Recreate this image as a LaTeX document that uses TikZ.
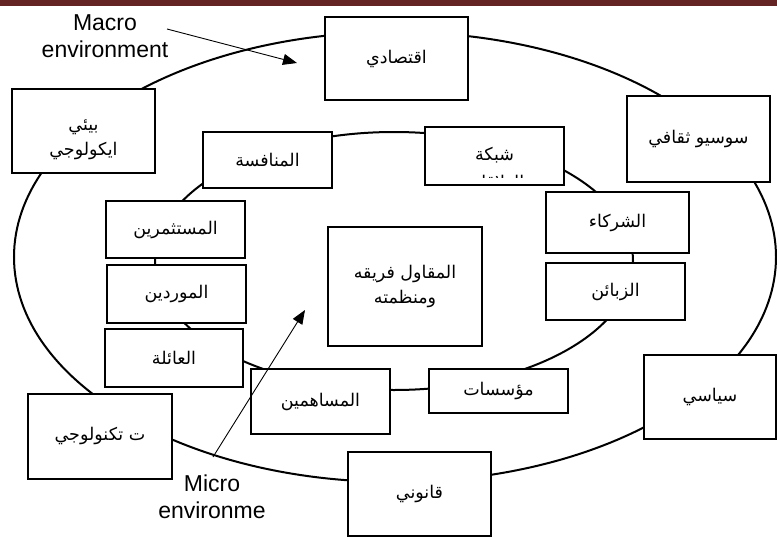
\documentclass[tikz,border=0pt]{standalone}
\usepackage{fontspec}
\setmainfont{Liberation Sans}
\newfontfamily\arabicfont[Script=Arabic]{DejaVu Sans}
\TeXXeTstate=1
\usetikzlibrary{arrows.meta}
\definecolor{barred}{RGB}{99,36,35}
\newcommand{\artxt}[1]{{\arabicfont\beginR #1\endR}}

\begin{document}
\begin{tikzpicture}[x=1pt,y=-1pt,
    box/.style={draw, line width=2pt, fill=white, inner sep=0pt, align=center,
      font=\fontsize{17.5}{25}\selectfont},
    envtext/.style={align=center, font=\fontsize{23}{26.5}\selectfont},
    pointer/.style={line width=0.9pt, -{Triangle[length=14pt,width=11pt]}}]
    \useasboundingbox (0,0) rectangle (777,538);
    \fill[barred] (0,0) rectangle (777,6);

    % Draw the two rings
    \draw[line width=2pt] (395,257) ellipse [x radius=381pt, y radius=225pt];
    \draw[line width=2pt] (394,261) ellipse [x radius=239pt, y radius=129pt];

    % Outer ring: macro environment
    \node[box, minimum width=143pt, minimum height=83pt] (econ) at (396.5,58.5) {\artxt{اقتصادي}};
    \node[box, minimum width=143pt, minimum height=86pt] (socio) at (698.5,139) {\artxt{سوسيو ثقافي}};
    \node[box, minimum width=143pt, minimum height=84pt] (ecolo) at (83.5,131) {};
    \node[align=center, font=\fontsize{17.5}{25}\selectfont] (ecolotext) at ([yshift=-9pt]ecolo.center) {\artxt{بيئي}\\\artxt{ايكولوجي}};
    \node[box, minimum width=144pt, minimum height=85pt] (techno) at (100,436) {\artxt{ت تكنولوجي}};
    \node[box, minimum width=143pt, minimum height=84pt] (legal) at (419.5,494) {\artxt{قانوني}};
    \node[box, minimum width=132pt, minimum height=84pt] (polit) at (710,397) {\artxt{سياسي}};

    % Inner ring: micro environment
    \node[box, minimum width=139pt, minimum height=58pt,
      path picture={
        \clip (path picture bounding box.north west) rectangle ([yshift=8pt]path picture bounding box.south east);
        \node[align=center, font=\fontsize{17.5}{28}\selectfont] at ([yshift=-12pt]path picture bounding box.center)
          {\artxt{شبكة}\\\artxt{العلاقات}};
      }] (network) at (494.5,156) {};
    \node[box, minimum width=129pt, minimum height=56pt] (rivals) at (267.5,160) {\artxt{المنافسة}};
    \node[box, minimum width=139pt, minimum height=57pt] (investors) at (175.5,229.5) {\artxt{المستثمرين}};
    \node[box, minimum width=139pt, minimum height=58pt] (suppliers) at (176.5,294) {\artxt{الموردين}};
    \node[box, minimum width=138pt, minimum height=58pt] (family) at (174,358) {\artxt{العائلة}};
    \node[box, minimum width=139pt, minimum height=65pt] (holders) at (320.5,401.5) {\artxt{المساهمين}};
    \node[box, minimum width=139pt, minimum height=44pt] (institutes) at (498.5,391) {\artxt{مؤسسات}};
    \node[box, minimum width=139pt, minimum height=57pt] (clients) at (615.5,291.5) {\artxt{الزبائن}};
    \node[box, minimum width=143pt, minimum height=61pt] (partners) at (617.5,222.5) {\artxt{الشركاء}};

    % Centre
    \node[box, minimum width=154pt, minimum height=119pt] (firm) at (405,286.5) {\artxt{المقاول فريقه}\\\artxt{ومنظمته}};

    % Labels and their arrows
    \node[envtext] (macro) at (105,36) {Macro\\environment};
    \node[envtext] (micro) at (212,497) {Micro\\environme};
    \coordinate (macrotail) at (167,29);
    \coordinate (macrotip) at (297,63);
    \coordinate (microtail) at (213,457);
    \coordinate (microtip) at (305,310);
    \draw[pointer] (macrotail) -- (macrotip);
    \draw[pointer] (microtail) -- (microtip);
\end{tikzpicture}
\end{document}
